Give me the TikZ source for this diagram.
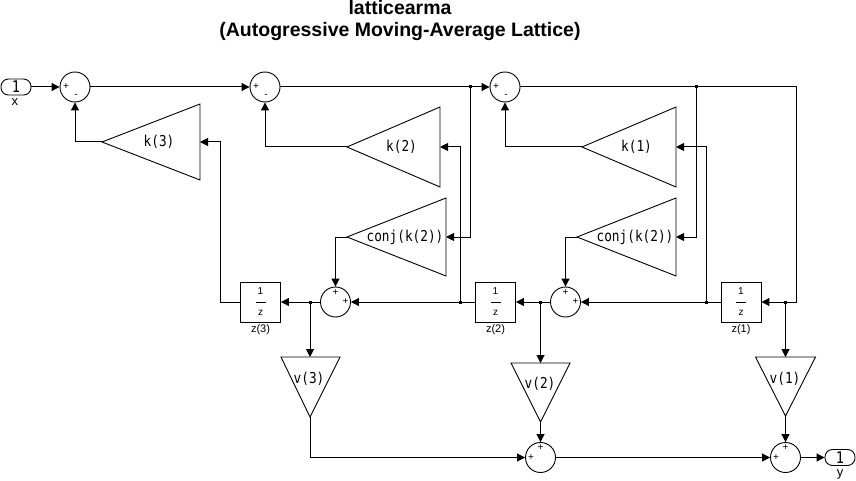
\documentclass[tikz,border=0pt]{standalone}
\usepackage{fontspec}
\setmainfont{Liberation Sans}
\newfontfamily\blkfont[FakeStretch=0.85]{DejaVu Sans Mono}
\usetikzlibrary{arrows.meta}
\begin{document}
\begin{tikzpicture}[x=1pt,y=-1pt,
  wire/.style={line width=1pt},
  arr/.style={line width=1pt,-{Triangle[length=8pt,width=8pt]}},
  sumc/.style={circle,draw,line width=0.9pt,minimum size=30pt,inner sep=0pt},
  port/.style={draw,line width=0.9pt,rounded corners=7.5pt,minimum width=30pt,minimum height=16pt,inner sep=0pt,font=\blkfont\fontsize{16}{16}\selectfont},
  delay/.style={draw,line width=0.9pt,minimum width=40pt,minimum height=40pt,inner sep=0pt},
  gainshape/.style={draw,line width=0.9pt},
  gtxt/.style={font=\blkfont\fontsize{15}{15}\selectfont,inner sep=0pt},
  sgn/.style={font=\fontsize{10}{10}\selectfont,inner sep=0pt},
  lbl/.style={font=\fontsize{13}{13}\selectfont,inner sep=0pt},
  zlbl/.style={font=\fontsize{10}{10}\selectfont,inner sep=0pt},
  zlab/.style={font=\fontsize{11}{11}\selectfont,inner sep=0pt},
  dot/.style={rectangle,fill,minimum size=3pt,inner sep=0pt},
  ttl/.style={font=\bfseries\fontsize{19.5}{19.5}\selectfont,anchor=base,inner sep=0pt}
]
\useasboundingbox (0,0) rectangle (856,481);

% title
\node[ttl] (t1) at (400,15) {latticearma};
\node[ttl] (t2) at (400,37) {(Autogressive Moving-Average Lattice)};

% ports
\node[port] (inp) at (16,87) {1};
\node[lbl] (inpl) at (15,102) {x};
\node[port] (outp) at (840,457.5) {1};
\node[lbl] (outpl) at (840,474) {y};

% upper sums
\node[sgn] (s1p) at (66,87) {+};
\node[sgn] (s1m) at (76,96) {-};
\node[sumc] (s1) at (75,87) {};
\node[sgn] (s2p) at (256,87) {+};
\node[sgn] (s2m) at (266,96) {-};
\node[sumc] (s2) at (265,87) {};
\node[sgn] (s3p) at (496,87) {+};
\node[sgn] (s3m) at (506,96) {-};
\node[sumc] (s3) at (505,87) {};

% lower sums
\node[sumc] (ls1) at (335.5,302) {};
\node[sgn] (ls1t) at (335.5,292.5) {+};
\node[sgn] (ls1r) at (345.5,302) {+};
\node[sumc] (ls2) at (565.5,302) {};
\node[sgn] (ls2t) at (565.5,292.5) {+};
\node[sgn] (ls2r) at (575.5,302) {+};

% bottom sums
\node[sumc] (bs1) at (540.5,457.5) {};
\node[sgn] (bs1l) at (531,457.5) {+};
\node[sgn] (bs1t) at (540.5,448) {+};
\node[sumc] (bs2) at (785.5,457.5) {};
\node[sgn] (bs2l) at (776,457.5) {+};
\node[sgn] (bs2t) at (785.5,448) {+};

% delays
\foreach \n/\x/\lab in {z3/260.5/z(3), z2/495.5/z(2), z1/741/z(1)}{
  \node[delay] (\n) at (\x,302) {};
  \node[zlbl] (\n num) at ([yshift=10.5pt]\n.center) {1};
  \node[zlbl] (\n den) at ([yshift=-10.5pt]\n.center) {z};
  \draw[line width=0.7pt] ([xshift=-5pt]\n.center) -- ([xshift=5pt]\n.center);
  \node[zlab] (\n lab) at (\x,330) {\lab};
}

% gain triangles (pointing left)
\draw[gainshape] (200,104) -- (102,142) -- (200,180) -- cycle;
\node[gtxt] (k3) at (159,142) {k(3)};
\coordinate (k3in) at (200,142); \coordinate (k3out) at (102,142);

\draw[gainshape] (440,107) -- (347,147) -- (440,187) -- cycle;
\node[gtxt] (k2) at (401.5,147) {k(2)};
\coordinate (k2in) at (440,147); \coordinate (k2out) at (347,147);

\draw[gainshape] (676,107) -- (582,147) -- (676,187) -- cycle;
\node[gtxt] (k1) at (636.5,147) {k(1)};
\coordinate (k1in) at (676,147); \coordinate (k1out) at (582,147);

\draw[gainshape] (446,198) -- (347,237) -- (446,276) -- cycle;
\node[gtxt] (c1) at (405,237) {conj(k(2))};
\coordinate (c1in) at (446,237); \coordinate (c1out) at (347,237);

\draw[gainshape] (676,198) -- (577,237) -- (676,276) -- cycle;
\node[gtxt] (c2) at (635,237) {conj(k(2))};
\coordinate (c2in) at (676,237); \coordinate (c2out) at (577,237);

% gain triangles (pointing down)
\draw[gainshape] (281,357) -- (340,357) -- (310,417) -- cycle;
\node[gtxt] (v3) at (309,379) {v(3)};
\coordinate (v3in) at (310,357); \coordinate (v3out) at (310,417);

\draw[gainshape] (511,363) -- (570,363) -- (540.5,422) -- cycle;
\node[gtxt] (v2) at (540,384) {v(2)};
\coordinate (v2in) at (540.5,363); \coordinate (v2out) at (540.5,422);

\draw[gainshape] (755.5,357) -- (815.5,357) -- (785.5,416) -- cycle;
\node[gtxt] (v1) at (785,379) {v(1)};
\coordinate (v1in) at (785.5,357); \coordinate (v1out) at (785.5,416);

% junctions
\node[dot] (j1) at (470,87) {};
\node[dot] (j2) at (696,87) {};
\node[dot] (j3) at (785.5,302) {};
\node[dot] (j4) at (706,302) {};
\node[dot] (j5) at (540.5,302) {};
\node[dot] (j6) at (460,302) {};
\node[dot] (j7) at (310,302) {};
\coordinate (tr) at (796,87);
\coordinate (br) at (796,302);
\coordinate (bend3) at (220,302);

% connectors
\draw[arr] (inp.east) -- (s1.west);
\draw[arr] (s1.east) -- (s2.west);
\draw[arr] (s2.east) -- (s3.west);
\draw[arr] (s3.east) -- (tr) -- (br) -- (z1.east);
\draw[arr] (j2.center) |- (c2in);
\draw[arr] (j3.center) -- (v1in);
\draw[arr] (z1.west) -- (ls2.east);
\draw[arr] (j4.center) |- (k1in);
\draw[arr] (k1out) -| (s3.south);
\draw[arr] (c2out) -| (ls2.north);
\draw[arr] (ls2.west) -- (z2.east);
\draw[arr] (j5.center) -- (v2in);
\draw[arr] (z2.west) -- (ls1.east);
\draw[arr] (j6.center) |- (k2in);
\draw[arr] (j1.center) |- (c1in);
\draw[arr] (k2out) -| (s2.south);
\draw[arr] (c1out) -| (ls1.north);
\draw[arr] (ls1.west) -- (z3.east);
\draw[arr] (j7.center) -- (v3in);
\draw[arr] (z3.west) -- (bend3) |- (k3in);
\draw[arr] (k3out) -| (s1.south);
\draw[arr] (v3out) |- (bs1.west);
\draw[arr] (v2out) -- (bs1.north);
\draw[arr] (bs1.east) -- (bs2.west);
\draw[arr] (v1out) -- (bs2.north);
\draw[arr] (bs2.east) -- (outp.west);
\end{tikzpicture}
\end{document}
